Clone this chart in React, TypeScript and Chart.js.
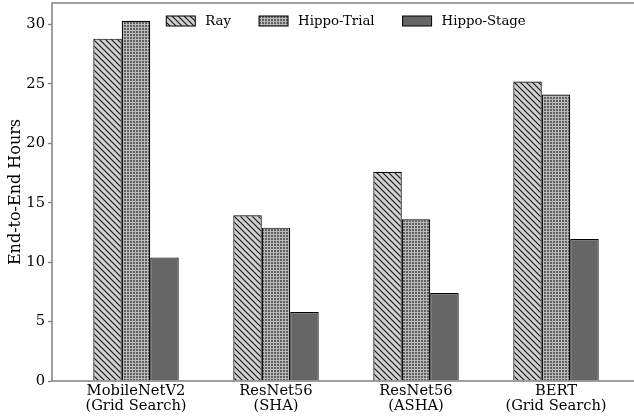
import { useEffect, useRef } from 'react';
import { Chart, registerables } from 'chart.js';

Chart.register(...registerables);

const categories: string[][] = [
  ['MobileNetV2', '(Grid Search)'],
  ['ResNet56', '(SHA)'],
  ['ResNet56', '(ASHA)'],
  ['BERT', '(Grid Search)'],
];
const seriesNames = ['Ray', 'Hippo-Trial', 'Hippo-Stage'];
const rayValues = [28.8, 13.95, 17.6, 25.2];
const trialValues = [30.3, 12.9, 13.6, 24.1];
const stageValues = [10.4, 5.8, 7.4, 11.95];
const yTicks = [0, 5, 10, 15, 20, 25, 30];
const yTitle = 'End-to-End Hours';

const FONT = 'DejaVu Serif';

function makeRayPattern(ctx: CanvasRenderingContext2D) {
  const s = 6;
  const c = document.createElement('canvas');
  c.width = s; c.height = s;
  const g = c.getContext('2d')!;
  g.fillStyle = '#d0d0d0';
  g.fillRect(0, 0, s, s);
  g.strokeStyle = '#1a1a1a';
  g.lineWidth = 1.2;
  g.beginPath();
  g.moveTo(-1, -1); g.lineTo(s + 1, s + 1);
  g.moveTo(-1 - s, -1); g.lineTo(1, s + 1);
  g.moveTo(s - 1, -1); g.lineTo(2 * s + 1, s + 1);
  g.stroke();
  return ctx.createPattern(c, 'repeat')!;
}

function makeTrialPattern(ctx: CanvasRenderingContext2D) {
  const s = 3;
  const c = document.createElement('canvas');
  c.width = s; c.height = s;
  const g = c.getContext('2d')!;
  g.fillStyle = '#bababa';
  g.fillRect(0, 0, s, s);
  g.fillStyle = '#606060';
  g.fillRect(1, 1, 2, 2);
  return ctx.createPattern(c, 'repeat')!;
}

export default function App() {
  const ref = useRef<HTMLCanvasElement>(null);
  useEffect(() => {
    document.documentElement.style.overflow = 'hidden';
    document.body.style.margin = '0';
    const canvas = ref.current!;
    const ctx = canvas.getContext('2d')!;
    const fills: any[] = [makeRayPattern(ctx), makeTrialPattern(ctx), '#666666'];
    const values = [rayValues, trialValues, stageValues];

    const framePlugin = {
      id: 'frame',
      afterDatasetsDraw(chart: any) {
        const { left, top, bottom } = chart.chartArea;
        const W = chart.width + 10;
        const c = chart.ctx;
        c.save();
        c.strokeStyle = '#808080';
        c.lineWidth = 1.5;
        c.beginPath();
        c.moveTo(W, top); c.lineTo(left, top); c.lineTo(left, bottom); c.lineTo(W, bottom);
        c.stroke();
        c.restore();
      },
    };

    const legendPlugin = {
      id: 'customLegend',
      afterDraw(chart: any) {
        const c = chart.ctx;
        const area = chart.chartArea;
        c.save();
        c.font = `13.3px "${FONT}"`;
        const boxW = 29, boxH = 10, gapText = 10, gapItem = 28;
        const widths = chart.data.datasets.map((d: any) => c.measureText(d.label).width);
        let total = 0;
        widths.forEach((w: number, i: number) => {
          total += boxW + gapText + w + (i < widths.length - 1 ? gapItem : 0);
        });
        let x = 346 - total / 2 + (area.left - 52);
        const boxTop = area.top + 13;
        chart.data.datasets.forEach((d: any, i: number) => {
          c.fillStyle = d.backgroundColor;
          c.fillRect(x, boxTop, boxW, boxH);
          c.strokeStyle = '#000';
          c.lineWidth = 1;
          c.strokeRect(x, boxTop, boxW, boxH);
          c.fillStyle = '#000';
          c.textBaseline = 'middle';
          c.textAlign = 'left';
          c.fillText(d.label, x + boxW + gapText, boxTop + boxH / 2 + 0.5);
          x += boxW + gapText + widths[i] + gapItem;
        });
        c.restore();
      },
    };

    const chart = new Chart(canvas, {
      type: 'bar',
      data: {
        labels: categories as any,
        datasets: seriesNames.map((name, i) => ({
          label: name,
          data: values[i],
          backgroundColor: fills[i],
          borderColor: '#000',
          borderWidth: 1.2,
          categoryPercentage: 0.61,
          barPercentage: 1,
        })),
      },
      options: {
        animation: false,
        responsive: true,
        maintainAspectRatio: false,
        layout: { padding: { top: 3, right: 0, left: 0, bottom: 0 } },
        plugins: { legend: { display: false }, tooltip: { enabled: false } },
        scales: {
          x: {
            type: 'category',
            offset: true,
            grid: { display: false, drawTicks: false },
            border: { display: false },
            ticks: {
              color: '#000',
              padding: 3,
              maxRotation: 0,
              autoSkip: false,
              font: { family: FONT, size: 14.7, lineHeight: 1.0 },
            },
            afterBuildTicks: (scale: any) => {
              scale._startValue = -0.6;
              scale._valueRange = 582 / 140;
            },
            afterFit: (scale: any) => {
              scale.height = 38;
              scale.paddingLeft = 0; scale.paddingRight = 0;
              scale.paddingTop = 0; scale.paddingBottom = 0;
            },
          },
          y: {
            min: 0,
            max: 31.8,
            grid: {
              display: true,
              drawOnChartArea: false,
              drawTicks: true,
              tickLength: 4,
              color: '#808080',
              tickWidth: 1.3,
            },
            border: { display: false },
            ticks: {
              color: '#000',
              padding: 3,
              includeBounds: false,
              font: { family: FONT, size: 14.7 },
            },
            afterBuildTicks: (scale: any) => {
              scale.ticks = yTicks.map((v) => ({ value: v }));
            },
            title: {
              display: true,
              text: yTitle,
              color: '#000',
              padding: { top: 6, bottom: 0 },
              font: { family: FONT, size: 16 },
            },
            afterFit: (scale: any) => {
              scale.width = 52;
              scale.paddingTop = 0; scale.paddingBottom = 0;
              scale.paddingLeft = 0; scale.paddingRight = 0;
            },
          },
        },
      },
      plugins: [framePlugin, legendPlugin],
    });
    return () => chart.destroy();
  }, []);

  return (
    <div style={{ position: 'relative', width: 634, height: 419, background: '#fff' }}>
      <canvas ref={ref} />
    </div>
  );
}
